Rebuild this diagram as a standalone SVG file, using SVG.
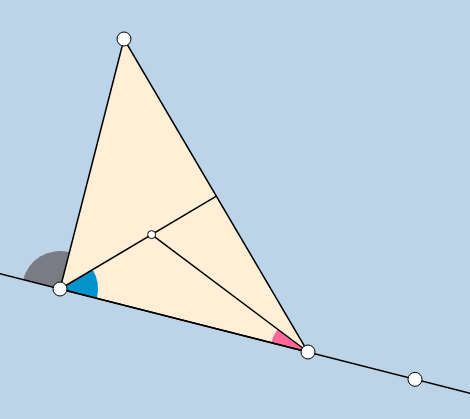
<svg xmlns="http://www.w3.org/2000/svg" width="470" height="419" viewBox="0 0 470 419">
<style>
.ln{stroke:#000;stroke-width:1.5;fill:none;stroke-linecap:round}
.pt{fill:#fff;stroke:#000;stroke-width:1}
</style>
<rect width="470" height="419" fill="#bcd4e8"/>
<g id="triangle">
<polygon points="124,39 60,289 308,352" fill="#ffefd6"/>
</g>
<g id="angles">
<path id="angle-exterior" d="M60,289 L69.42,252.19 A38,38 0 0,0 23.17,279.64 Z" fill="#797c84"/>
<path id="angle-B" d="M60,289 L96.83,298.36 A38,38 0 0,0 92.68,269.6 Z" fill="#0094cc"/>
<path id="angle-C" d="M308,352 L271.17,342.64 A38,38 0 0,1 277.61,329.18 Z" fill="#ff6699"/>
</g>
<g id="connectors">
<line class="ln" x1="0" y1="273.76" x2="470" y2="393.15"/>
<polygon class="ln" points="124,39 60,289 308,352"/>
<line class="ln" x1="60" y1="289" x2="216.4" y2="196.2"/>
<line class="ln" x1="308" y1="352" x2="151.65" y2="234.6"/>
</g>
<g id="points">
<circle id="A" class="pt" cx="124" cy="39" r="7"/>
<circle id="B" class="pt" cx="60" cy="289" r="7"/>
<circle id="C" class="pt" cx="308" cy="352" r="7"/>
<circle id="D" class="pt" cx="415" cy="379.3" r="7"/>
<circle id="I" class="pt" cx="151.65" cy="234.6" r="4"/>
</g>
</svg>
